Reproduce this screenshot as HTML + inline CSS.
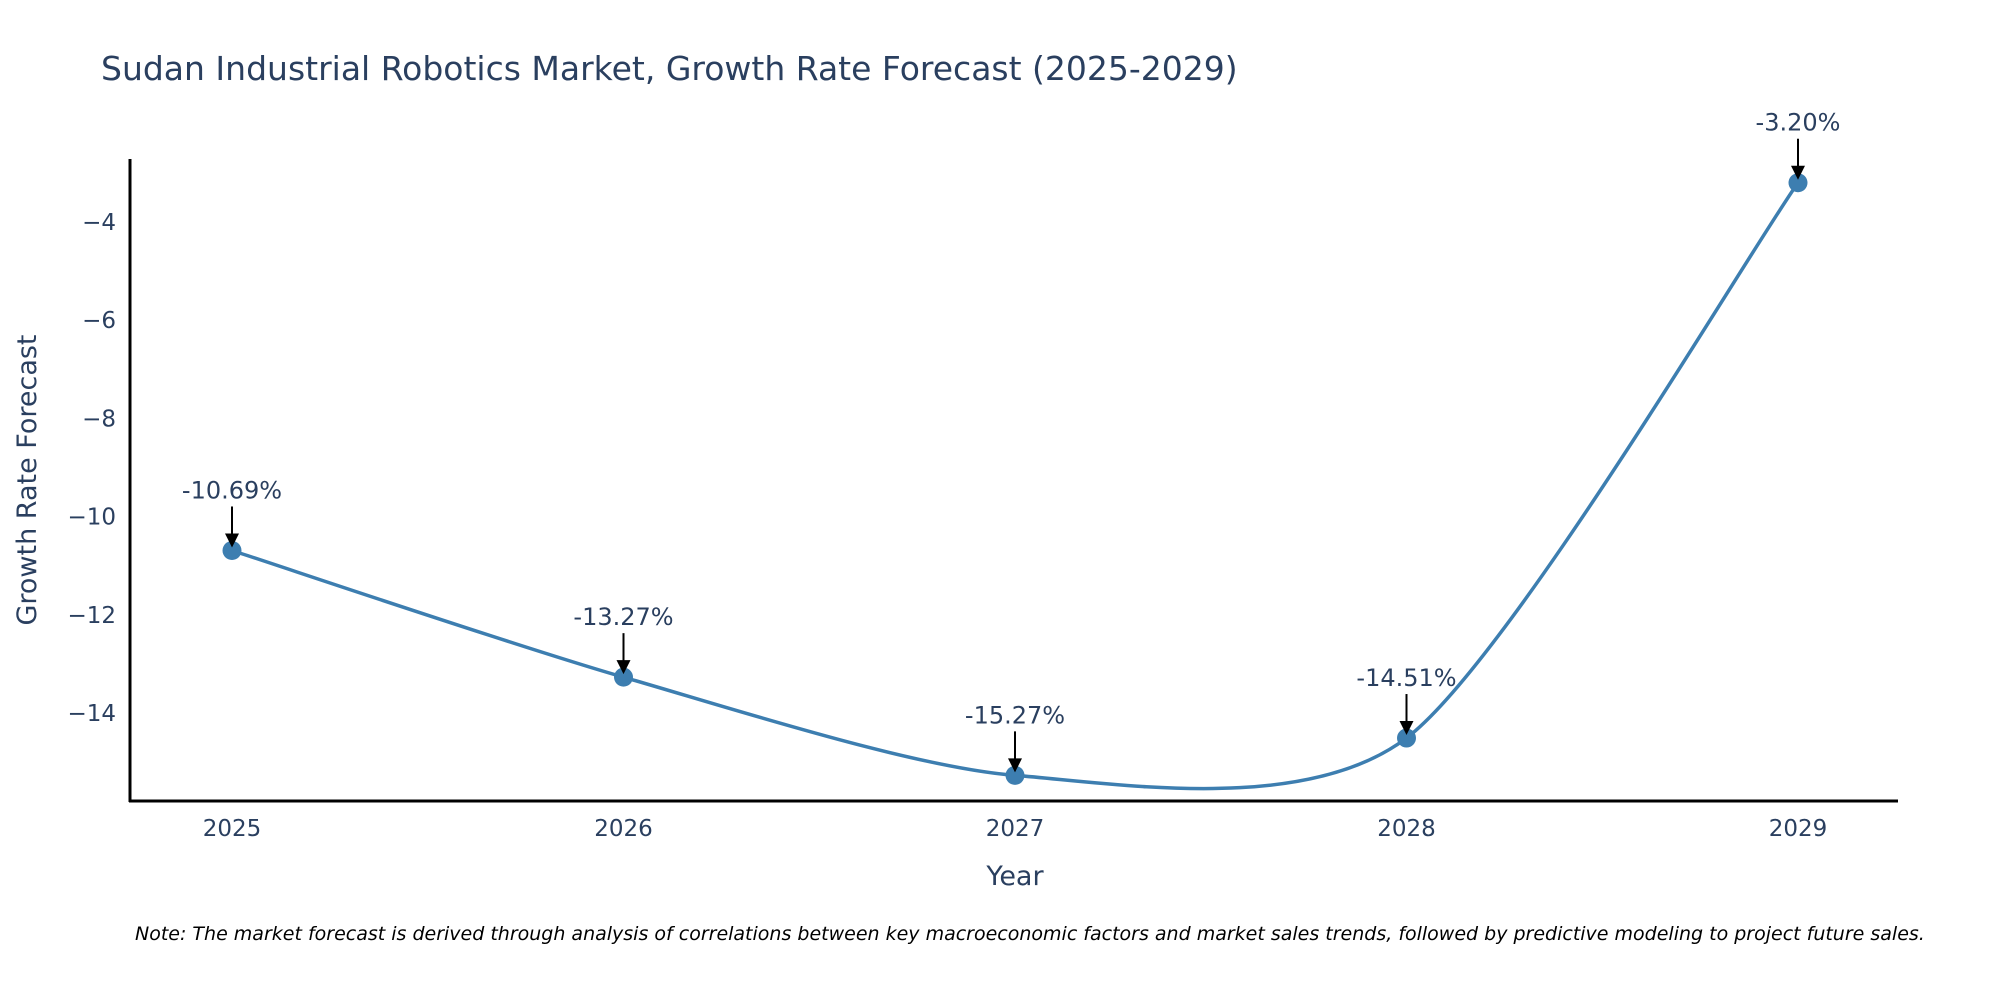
<!DOCTYPE html>
<html><head><meta charset="utf-8"><style>
body{margin:0;background:#fff;}
svg{display:block;font-family:"DejaVu Sans","Liberation Sans",sans-serif;}
</style></head><body>
<svg id="chart" width="2000" height="1000" viewBox="0 0 2000 1000">
<text x="101" y="80" font-size="33" fill="#2a3f5f">Sudan Industrial Robotics Market, Growth Rate Forecast (2025-2029)</text>
<g id="yticks"></g>
<g id="xticks"></g>
<line x1="130" y1="159" x2="130" y2="802" stroke="#000" stroke-width="3"/>
<line x1="129" y1="801" x2="1898" y2="801" stroke="#000" stroke-width="3"/>
<text transform="translate(36,480) rotate(-90)" text-anchor="middle" font-size="27" fill="#2a3f5f">Growth Rate Forecast</text>
<text x="1015" y="885" text-anchor="middle" font-size="27" fill="#2a3f5f">Year</text>
<g id="series"></g>
<text x="135" y="940" font-size="19" font-style="italic" fill="#000">Note: The market forecast is derived through analysis of correlations between key macroeconomic factors and market sales trends, followed by predictive modeling to project future sales.</text>
</svg>
<script>
const years = [2025, 2026, 2027, 2028, 2029];
const values = [-10.69, -13.27, -15.27, -14.51, -3.20];
const labels = ["-10.69%", "-13.27%", "-15.27%", "-14.51%", "-3.20%"];
const yTicks = [-4, -6, -8, -10, -12, -14];

const NS = "http://www.w3.org/2000/svg";
function xS(v){ return 232 + (v - 2025) * 391.5; }
function yS(v){ return 222 + (-4 - v) * 49.1; }
function mk(tag, attrs, parent){ const e = document.createElementNS(NS, tag); for (const k in attrs) e.setAttribute(k, attrs[k]); parent.appendChild(e); return e; }

const yt = document.getElementById('yticks');
yTicks.forEach(t => {
  const e = mk('text', {x: 116, y: yS(t) + 8, 'text-anchor': 'end', 'font-size': 23, fill: '#2a3f5f'}, yt);
  
  
  e.textContent = String(t).replace('-', '\u2212');
});
const xt = document.getElementById('xticks');
years.forEach(y => {
  const e = mk('text', {x: xS(y), y: 836, 'text-anchor': 'middle', 'font-size': 23, fill: '#2a3f5f'}, xt);
  
  
  e.textContent = y;
});

const g = document.getElementById('series');
const pts = years.map((y, i) => [xS(y), yS(values[i])]);
const k = 0.13;
let d = 'M' + pts[0][0] + ',' + pts[0][1];
for (let i = 0; i < pts.length - 1; i++) {
  const p0 = pts[Math.max(0, i - 1)], p1 = pts[i], p2 = pts[i + 1], p3 = pts[Math.min(pts.length - 1, i + 2)];
  const c1x = p1[0] + (p2[0] - p0[0]) * k, c1y = p1[1] + (p2[1] - p0[1]) * k;
  const c2x = p2[0] - (p3[0] - p1[0]) * k, c2y = p2[1] - (p3[1] - p1[1]) * k;
  d += ' C' + c1x + ',' + c1y + ' ' + c2x + ',' + c2y + ' ' + p2[0] + ',' + p2[1];
}
const line = mk('path', {d: d, fill: 'none', stroke: '#3d7eb0', 'stroke-width': 3.5}, g);



pts.forEach((p, i) => {
  const c = mk('circle', {cx: p[0], cy: p[1], r: 9.5, fill: '#3d7eb0'}, g);
  
  
  const a = mk('line', {x1: p[0], y1: p[1] - 44, x2: p[0], y2: p[1] - 14, stroke: '#000', 'stroke-width': 2}, g);
  
  
  const h = mk('polygon', {points: (p[0] - 7) + ',' + (p[1] - 17) + ' ' + (p[0] + 7) + ',' + (p[1] - 17) + ' ' + p[0] + ',' + (p[1] - 3), fill: '#000'}, g);
  
  
  const t = mk('text', {x: p[0], y: p[1] - 52, 'text-anchor': 'middle', 'font-size': 24, fill: '#2a3f5f'}, g);
  
  
  t.textContent = labels[i];
});
</script>
</body></html>
